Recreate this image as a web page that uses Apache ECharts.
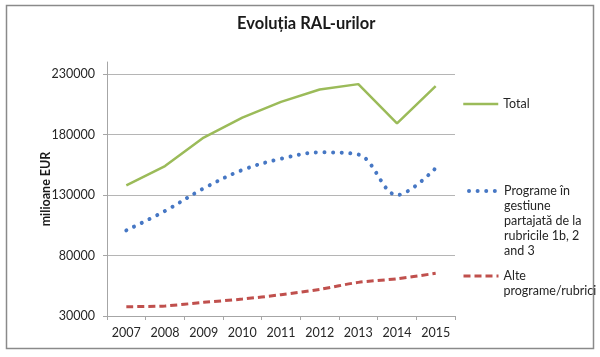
<!DOCTYPE html>
<html>
<head>
<meta charset="utf-8">
<script src="https://cdn.jsdelivr.net/npm/echarts@6/dist/echarts.min.js"></script>
<style>
html,body{margin:0;padding:0;background:#fff;}
#main{width:600px;height:357px;}
</style>
</head>
<body>
<div id="main"></div>
<script>
var years = ['2007','2008','2009','2010','2011','2012','2013','2014','2015'];
var totalValues = [138000, 154000, 177500, 194000, 207000, 217300, 221700, 189200, 220100];
var programeValues = [100800, 116800, 135500, 150700, 160000, 165300, 163500, 130000, 152300];
var alteValues = [37700, 38300, 41300, 44000, 47600, 52000, 57800, 60800, 65300];
var yTicks = [30000, 80000, 130000, 180000, 230000];
var seriesNames = ['Total', 'Programe în gestiune partajată de la rubricile 1b, 2 and 3', 'Alte programe/rubrici'];
var legendLabels = ['Total', '\n\n\n\nPrograme în\ngestiune\npartajată de la\nrubricile 1b, 2\nand 3', '\nAlte\nprograme/rubrici'];

var FONT = 'Lato';
var chart = echarts.init(document.getElementById('main'), null, {renderer: 'canvas'});

var legendText = {fontFamily: FONT, fontSize: 12.5, color: '#262626', lineHeight: 15};
function makeLegend(i, top, w, lineStyle) {
  return {
    data: [seriesNames[i]],
    left: 497 - w,
    top: top,
    orient: 'vertical',
    itemWidth: w,
    itemHeight: 14,
    padding: 0,
    itemStyle: {opacity: 0},
    lineStyle: lineStyle,
    textStyle: legendText,
    formatter: function (n) { return legendLabels[seriesNames.indexOf(n)]; }
  };
}

chart.setOption({
  animation: false,
  backgroundColor: '#fff',
  title: {
    text: 'Evoluția RAL-urilor',
    left: 237,
    top: 15,
    padding: 0,
    textStyle: {fontFamily: FONT, fontSize: 16.5, fontWeight: 'bold', color: '#1a1a1a'}
  },
  graphic: [{
    type: 'rect',
    shape: {x: 6.5, y: 5.5, width: 587, height: 343},
    style: {fill: 'none', stroke: '#8a8a8a', lineWidth: 1.5},
    silent: true
  }],
  legend: [
    makeLegend(0, 96.5, 35, {width: 2.5}),
    makeLegend(1, 123.5, 30, {width: 4, cap: 'round', type: [0.01, 8.6]}),
    makeLegend(2, 253.5, 35, {width: 3, type: [7, 4]})
  ],
  grid: {left: 107, right: 145, top: 62, bottom: 41, containLabel: false},
  xAxis: {
    type: 'category',
    data: years,
    boundaryGap: true,
    axisLine: {lineStyle: {color: '#a6a6a6', width: 1}},
    axisTick: {show: true, length: 4, lineStyle: {color: '#a6a6a6'}},
    axisLabel: {fontFamily: FONT, fontSize: 12.5, color: '#262626', margin: 10},
    splitLine: {show: false}
  },
  yAxis: {
    type: 'value',
    min: 30000,
    max: 240000,
    interval: 50000,
    name: 'milioane EUR',
    nameLocation: 'middle',
    nameGap: 55,
    nameMoveOverlap: false,
    nameTextStyle: {fontFamily: FONT, fontSize: 12.5, fontWeight: 'bold', color: '#1a1a1a'},
    axisLine: {show: true, lineStyle: {color: '#a6a6a6', width: 1}},
    axisTick: {show: true, length: 4, inside: false, customValues: yTicks, lineStyle: {color: '#a6a6a6'}},
    axisLabel: {fontFamily: FONT, fontSize: 12.5, color: '#262626', margin: 12, customValues: yTicks,
      formatter: function (v) { return String(v); }},
    splitLine: {show: true, lineStyle: {color: ['#b5b5b5','#b5b5b5','#b5b5b5','#b5b5b5','#b5b5b5','rgba(0,0,0,0)'], width: 1}}
  },
  series: [
    {
      name: seriesNames[0],
      type: 'line',
      data: totalValues,
      symbol: 'none',
      smooth: false,
      lineStyle: {color: '#9bbb59', width: 2.5},
      itemStyle: {color: '#9bbb59'},
      z: 3
    },
    {
      name: seriesNames[1],
      type: 'line',
      data: programeValues,
      symbol: 'none',
      smooth: 0.35,
      lineStyle: {color: '#4677c4', width: 4, type: [0.01, 8.6], cap: 'round'},
      itemStyle: {color: '#4677c4'},
      z: 2
    },
    {
      name: seriesNames[2],
      type: 'line',
      data: alteValues,
      symbol: 'none',
      smooth: 0.3,
      lineStyle: {color: '#c0504d', width: 3, type: [7, 4], cap: 'butt'},
      itemStyle: {color: '#c0504d'},
      z: 1
    }
  ]
});
</script>
</body>
</html>
